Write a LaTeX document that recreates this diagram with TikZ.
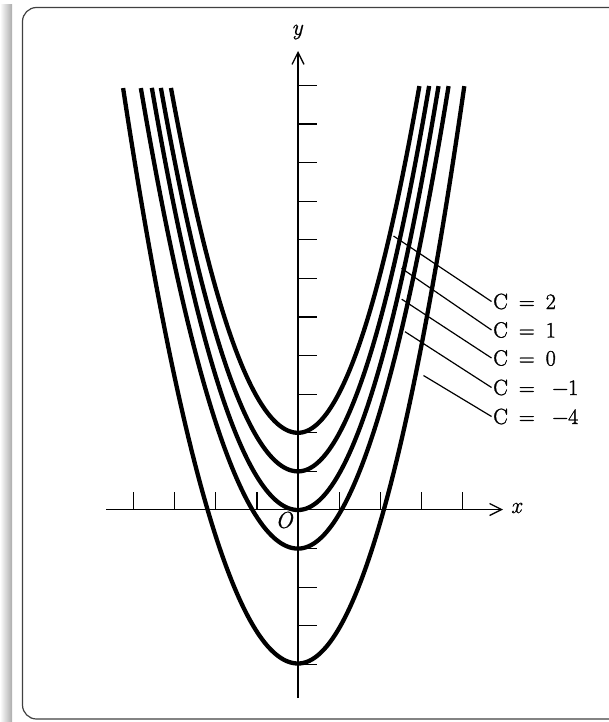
\documentclass[tikz,border=0pt]{standalone}
\usepackage{fontspec}
\setmainfont{Latin Modern Roman}
\newfontfamily\labfont{Latin Modern Roman}[FakeBold=1.3]
\newfontfamily\axfont{Latin Modern Roman}[FakeBold=0.8]
\usetikzlibrary{arrows.meta}
\newcommand{\eqsp}{\hspace{0.5em}}
\begin{document}
\begin{tikzpicture}[x=1pt,y=-1pt,
  curve/.style={line width=4.3pt, black, line join=round},
  axisline/.style={line width=1.3pt, -{Straight Barb[length=12pt,width=12pt,line width=1.3pt]}},
  tickmark/.style={line width=1.2pt},
  leader/.style={line width=1.2pt},
  lab/.style={font=\labfont\fontsize{22}{26}\selectfont, inner sep=1.5pt, anchor=base west},
  axlab/.style={font=\axfont\fontsize{23}{27}\selectfont\itshape, inner sep=0pt}]
\useasboundingbox (0,0) rectangle (609,722);
% frame and shadow
\shade[left color=white, right color=gray!65] (0,5) rectangle (12,722);
\draw[rounded corners=14pt, line width=1.2pt, gray!50!black] (609,7.5) -- (22.5,7.5) -- (22.5,719) -- (609,719);
% axes
\coordinate (xs) at (106,509.5);
\coordinate (xe) at (503,509.5);
\coordinate (ys) at (298,698);
\coordinate (ye) at (298,51);
\draw[axisline] (xs) -- (xe);
\draw[axisline] (ys) -- (ye);
\node[axlab] (xl) at (516,508) {x};
\node[axlab] (yl) at (297,32) {y};
\node[axlab] (ol) at (284,520) {O};
% ticks
\foreach \k in {-4,-3,-2,-1,1,2,3,4}
  \draw[tickmark] ({298+41.1*\k},509.5) -- ({298+41.1*\k},491.5);
\foreach \k in {-4,-3,-2,-1,1,2,3,4,5,6,7,8,9,10,11}
  \draw[tickmark] (298,{510-38.6*\k}) -- (316.5,{510-38.6*\k});
% curves
\draw[curve] plot[domain=-2.989:0, samples=60, smooth] ({298+42.5*\x},{432.8-38.6*\x*\x})
  -- plot[domain=0:2.997, samples=60, smooth] ({298+40.5*\x},{432.8-38.6*\x*\x});
\draw[curve] plot[domain=-3.152:0, samples=60, smooth] ({298+43.5*\x},{471.4-38.6*\x*\x})
  -- plot[domain=0:3.160, samples=60, smooth] ({298+41.5*\x},{471.4-38.6*\x*\x});
\draw[curve] plot[domain=-3.307:0, samples=60, smooth] ({298+44.2*\x},{510-38.6*\x*\x})
  -- plot[domain=0:3.314, samples=60, smooth] ({298+42.4*\x},{510-38.6*\x*\x});
\draw[curve] plot[domain=-3.454:0, samples=60, smooth] ({298+45.5*\x},{548.6-38.6*\x*\x})
  -- plot[domain=0:3.462, samples=60, smooth] ({298+43.5*\x},{548.6-38.6*\x*\x});
\draw[curve] plot[domain=-3.861:0, samples=60, smooth] ({298+45.3*\x},{663.5-38.6*\x*\x})
  -- plot[domain=0:3.868, samples=60, smooth] ({298+43*\x},{663.5-38.6*\x*\x});
% labels
\node[lab] (l2) at (491.5,309) {C\eqsp=\eqsp2};
\node[lab] (l1) at (491.5,337.5) {C\eqsp=\eqsp1};
\node[lab] (l0) at (491.5,365.5) {C\eqsp=\eqsp0};
\node[lab] (lm1) at (491.5,395) {C\eqsp=\eqsp\hspace{0.3em}−1};
\node[lab] (lm4) at (491.5,424) {C\eqsp=\eqsp\hspace{0.3em}−4};
\coordinate (s2) at (393.5,236);
\coordinate (s1) at (401.5,268.3);
\coordinate (s0) at (401.7,299.2);
\coordinate (sm1) at (405,331.7);
\coordinate (sm4) at (423.5,375.5);
\draw[leader] (s2) -- (l2.west);
\draw[leader] (s1) -- (l1.west);
\draw[leader] (s0) -- (l0.west);
\draw[leader] (sm1) -- (lm1.west);
\draw[leader] (sm4) -- (lm4.west);
\end{tikzpicture}
\end{document}
